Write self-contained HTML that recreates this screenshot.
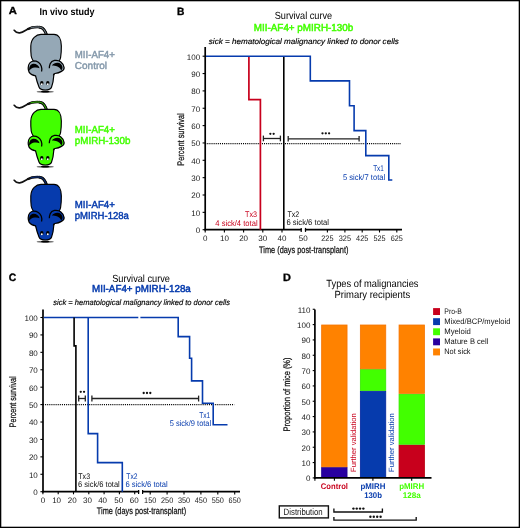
<!DOCTYPE html><html><head><meta charset="utf-8"><style>html,body{margin:0;padding:0;background:#fff;}svg{display:block;will-change:transform;}</style></head><body>
<svg width="520" height="528" viewBox="0 0 520 528" text-rendering="geometricPrecision" font-family='"Liberation Sans", sans-serif'>
<rect x="0" y="0" width="520" height="528" fill="#fff"/>
<text x="8.8" y="14.4" font-size="10.2" font-weight="bold" textLength="8.1" lengthAdjust="spacingAndGlyphs" stroke="#000" stroke-width="0.35">A</text>
<text x="39.5" y="14.5" font-size="9.9" font-weight="bold" textLength="55.1" lengthAdjust="spacingAndGlyphs">In vivo study</text>
<g transform="translate(0,0)">
<g>
 <path d="M14.2,30.3 C15.6,32.2 17.6,33.1 19.7,32.9 C22.5,32.6 24.8,30.8 27.4,29.3 C30,27.9 33.5,27 37.4,27 C40.5,27 42.8,27.6 44.2,30 C45.2,31.5 46,32.8 46.4,34.6" fill="none" stroke="#111" stroke-width="1.7" stroke-linecap="round"/>
 <path d="M27.4,29.3 C30,27.9 33.5,27 37.4,27 C40.5,27 42.8,27.6 44.2,30 C45.2,31.5 46,32.8 46.4,34.6" fill="none" stroke="#111" stroke-width="2.3"/>
 <path d="M39,27.1 C41.2,27.3 43,28 44.2,30 C45.2,31.5 46,32.8 46.4,34.6" fill="none" stroke="#111" stroke-width="2.9"/>
 <path d="M31,27.8 C33.5,27.1 35.5,27 37.4,27 C40.5,27 42.8,27.6 44.2,30 C45.1,31.4 45.8,32.8 46.2,34.8" fill="none" stroke="#95a8b6" stroke-width="0.75" stroke-linecap="round"/>
 <path d="M41,34.4 L54,34.4 C58.6,34.4 61.3,39 61.35,46 C61.4,51 61,55 60.6,57.5 C60.3,59 59.8,60 59.3,60.5 L56,68 L53.8,75.4 C53.5,80 52.8,84 51.5,87.2 C50.6,89.3 49.2,90 45.3,90 C41.4,90 40,89.3 39.1,87.2 C37.8,84 36.5,80 35.6,76 L33.2,61 C32.3,59.5 31.5,58 31.2,56 C30.8,52 30.7,49 30.8,46 C31.1,38.6 36.2,34.4 41,34.4 Z" fill="#95a8b6" stroke="#000" stroke-width="1.15"/>
 <path d="M33.5,61 C36.5,61 40,62.8 41.3,66.3 C41.9,68 41.9,70 41.6,71.5 L36,76 C34.5,75.6 33,75.2 31.8,74.6 C29.6,73.5 28.2,71 28.2,68 C28.2,64.2 30.5,61.4 33.5,61 Z" fill="#95a8b6"/>
 <path d="M41.6,71.5 C41.9,70 41.9,68 41.3,66.3 C40,62.8 36.5,61 33.5,61 C30.5,61.4 28.2,64.2 28.2,68 C28.2,71 29.6,73.5 31.8,74.6 C33,75.2 34.5,75.6 36,76" fill="none" stroke="#000" stroke-width="1.25"/>
 <path d="M29.2,70.8 C28.8,66.8 30.4,64 33.2,63.7 C36,63.4 38.6,65.1 39.6,68.2 C38.1,67.6 36.4,67.4 34.6,67.6 C32.4,67.9 30.5,69 29.2,70.8 Z" fill="#000"/>
 <path d="M49.3,68.3 L53.7,73.7 C55,73.6 56,73.5 56.8,73.3 C59,72.8 60.5,72.2 61.4,71.4 C63,70.2 64.2,69.3 64.1,67.8 C64.1,66.8 63.9,66 63.7,65.8 C62.8,63.3 61.4,62.3 60.6,61.8 C59.4,60.8 58,60.2 56.8,60.2 C55,60.2 53.8,60.4 52.9,61 C51.4,61.8 50.6,62.6 50.2,63.7 C49.6,65.2 49.3,66.6 49.3,68.3 Z" fill="#95a8b6"/>
 <path d="M49.3,68.3 C49.3,66.6 49.6,65.2 50.2,63.7 C50.9,62 52.5,60.8 54.5,60.4 C56.8,60 59,60.5 60.6,61.8 C62.4,63.2 63.8,65.2 64.1,67.6 C64.3,69.4 63,70.6 61.4,71.4 C59.8,72.4 57.4,73.2 55,73.5 C54,73.7 53.5,74.3 53.4,75.4" fill="none" stroke="#000" stroke-width="1.25"/>
 <path d="M51.8,65.6 C53.3,63.4 55.5,62.6 57.5,62.7 C60.1,62.8 62,64.5 62.4,66.8 C62.6,68.1 62.2,69.4 61.3,70.5 C60.4,68.8 59.3,67.3 57.4,66.6 C55.6,65.9 53.5,65.7 51.8,65.6 Z" fill="#000"/>
 <ellipse cx="41.8" cy="83.1" rx="1.7" ry="2.2" fill="#000"/>
 <ellipse cx="47.8" cy="83.1" rx="1.7" ry="2.2" fill="#000"/>
 <circle cx="41.8" cy="84.2" r="0.95" fill="#fff"/>
 <circle cx="47.8" cy="84.2" r="0.95" fill="#fff"/>
 <ellipse cx="45.2" cy="91.8" rx="8.6" ry="1.0" fill="#111" opacity="0.6"/>
 <ellipse cx="45.2" cy="91.6" rx="4.3" ry="0.95" fill="#000"/>
</g></g>
<g transform="translate(0,75)">
<g>
 <path d="M14.2,30.3 C15.6,32.2 17.6,33.1 19.7,32.9 C22.5,32.6 24.8,30.8 27.4,29.3 C30,27.9 33.5,27 37.4,27 C40.5,27 42.8,27.6 44.2,30 C45.2,31.5 46,32.8 46.4,34.6" fill="none" stroke="#111" stroke-width="1.7" stroke-linecap="round"/>
 <path d="M27.4,29.3 C30,27.9 33.5,27 37.4,27 C40.5,27 42.8,27.6 44.2,30 C45.2,31.5 46,32.8 46.4,34.6" fill="none" stroke="#111" stroke-width="2.3"/>
 <path d="M39,27.1 C41.2,27.3 43,28 44.2,30 C45.2,31.5 46,32.8 46.4,34.6" fill="none" stroke="#111" stroke-width="2.9"/>
 <path d="M31,27.8 C33.5,27.1 35.5,27 37.4,27 C40.5,27 42.8,27.6 44.2,30 C45.1,31.4 45.8,32.8 46.2,34.8" fill="none" stroke="#42ff00" stroke-width="0.75" stroke-linecap="round"/>
 <path d="M41,34.4 L54,34.4 C58.6,34.4 61.3,39 61.35,46 C61.4,51 61,55 60.6,57.5 C60.3,59 59.8,60 59.3,60.5 L56,68 L53.8,75.4 C53.5,80 52.8,84 51.5,87.2 C50.6,89.3 49.2,90 45.3,90 C41.4,90 40,89.3 39.1,87.2 C37.8,84 36.5,80 35.6,76 L33.2,61 C32.3,59.5 31.5,58 31.2,56 C30.8,52 30.7,49 30.8,46 C31.1,38.6 36.2,34.4 41,34.4 Z" fill="#42ff00" stroke="#000" stroke-width="1.15"/>
 <path d="M33.5,61 C36.5,61 40,62.8 41.3,66.3 C41.9,68 41.9,70 41.6,71.5 L36,76 C34.5,75.6 33,75.2 31.8,74.6 C29.6,73.5 28.2,71 28.2,68 C28.2,64.2 30.5,61.4 33.5,61 Z" fill="#42ff00"/>
 <path d="M41.6,71.5 C41.9,70 41.9,68 41.3,66.3 C40,62.8 36.5,61 33.5,61 C30.5,61.4 28.2,64.2 28.2,68 C28.2,71 29.6,73.5 31.8,74.6 C33,75.2 34.5,75.6 36,76" fill="none" stroke="#000" stroke-width="1.25"/>
 <path d="M29.2,70.8 C28.8,66.8 30.4,64 33.2,63.7 C36,63.4 38.6,65.1 39.6,68.2 C38.1,67.6 36.4,67.4 34.6,67.6 C32.4,67.9 30.5,69 29.2,70.8 Z" fill="#000"/>
 <path d="M49.3,68.3 L53.7,73.7 C55,73.6 56,73.5 56.8,73.3 C59,72.8 60.5,72.2 61.4,71.4 C63,70.2 64.2,69.3 64.1,67.8 C64.1,66.8 63.9,66 63.7,65.8 C62.8,63.3 61.4,62.3 60.6,61.8 C59.4,60.8 58,60.2 56.8,60.2 C55,60.2 53.8,60.4 52.9,61 C51.4,61.8 50.6,62.6 50.2,63.7 C49.6,65.2 49.3,66.6 49.3,68.3 Z" fill="#42ff00"/>
 <path d="M49.3,68.3 C49.3,66.6 49.6,65.2 50.2,63.7 C50.9,62 52.5,60.8 54.5,60.4 C56.8,60 59,60.5 60.6,61.8 C62.4,63.2 63.8,65.2 64.1,67.6 C64.3,69.4 63,70.6 61.4,71.4 C59.8,72.4 57.4,73.2 55,73.5 C54,73.7 53.5,74.3 53.4,75.4" fill="none" stroke="#000" stroke-width="1.25"/>
 <path d="M51.8,65.6 C53.3,63.4 55.5,62.6 57.5,62.7 C60.1,62.8 62,64.5 62.4,66.8 C62.6,68.1 62.2,69.4 61.3,70.5 C60.4,68.8 59.3,67.3 57.4,66.6 C55.6,65.9 53.5,65.7 51.8,65.6 Z" fill="#000"/>
 <ellipse cx="41.8" cy="83.1" rx="1.7" ry="2.2" fill="#000"/>
 <ellipse cx="47.8" cy="83.1" rx="1.7" ry="2.2" fill="#000"/>
 <circle cx="41.8" cy="84.2" r="0.95" fill="#fff"/>
 <circle cx="47.8" cy="84.2" r="0.95" fill="#fff"/>
 <ellipse cx="45.2" cy="91.8" rx="8.6" ry="1.0" fill="#111" opacity="0.6"/>
 <ellipse cx="45.2" cy="91.6" rx="4.3" ry="0.95" fill="#000"/>
</g></g>
<g transform="translate(0,150)">
<g>
 <path d="M14.2,30.3 C15.6,32.2 17.6,33.1 19.7,32.9 C22.5,32.6 24.8,30.8 27.4,29.3 C30,27.9 33.5,27 37.4,27 C40.5,27 42.8,27.6 44.2,30 C45.2,31.5 46,32.8 46.4,34.6" fill="none" stroke="#111" stroke-width="1.7" stroke-linecap="round"/>
 <path d="M27.4,29.3 C30,27.9 33.5,27 37.4,27 C40.5,27 42.8,27.6 44.2,30 C45.2,31.5 46,32.8 46.4,34.6" fill="none" stroke="#111" stroke-width="2.3"/>
 <path d="M39,27.1 C41.2,27.3 43,28 44.2,30 C45.2,31.5 46,32.8 46.4,34.6" fill="none" stroke="#111" stroke-width="2.9"/>
 <path d="M31,27.8 C33.5,27.1 35.5,27 37.4,27 C40.5,27 42.8,27.6 44.2,30 C45.1,31.4 45.8,32.8 46.2,34.8" fill="none" stroke="#063bad" stroke-width="0.75" stroke-linecap="round"/>
 <path d="M41,34.4 L54,34.4 C58.6,34.4 61.3,39 61.35,46 C61.4,51 61,55 60.6,57.5 C60.3,59 59.8,60 59.3,60.5 L56,68 L53.8,75.4 C53.5,80 52.8,84 51.5,87.2 C50.6,89.3 49.2,90 45.3,90 C41.4,90 40,89.3 39.1,87.2 C37.8,84 36.5,80 35.6,76 L33.2,61 C32.3,59.5 31.5,58 31.2,56 C30.8,52 30.7,49 30.8,46 C31.1,38.6 36.2,34.4 41,34.4 Z" fill="#063bad" stroke="#000" stroke-width="1.15"/>
 <path d="M33.5,61 C36.5,61 40,62.8 41.3,66.3 C41.9,68 41.9,70 41.6,71.5 L36,76 C34.5,75.6 33,75.2 31.8,74.6 C29.6,73.5 28.2,71 28.2,68 C28.2,64.2 30.5,61.4 33.5,61 Z" fill="#063bad"/>
 <path d="M41.6,71.5 C41.9,70 41.9,68 41.3,66.3 C40,62.8 36.5,61 33.5,61 C30.5,61.4 28.2,64.2 28.2,68 C28.2,71 29.6,73.5 31.8,74.6 C33,75.2 34.5,75.6 36,76" fill="none" stroke="#000" stroke-width="1.25"/>
 <path d="M29.2,70.8 C28.8,66.8 30.4,64 33.2,63.7 C36,63.4 38.6,65.1 39.6,68.2 C38.1,67.6 36.4,67.4 34.6,67.6 C32.4,67.9 30.5,69 29.2,70.8 Z" fill="#000"/>
 <path d="M49.3,68.3 L53.7,73.7 C55,73.6 56,73.5 56.8,73.3 C59,72.8 60.5,72.2 61.4,71.4 C63,70.2 64.2,69.3 64.1,67.8 C64.1,66.8 63.9,66 63.7,65.8 C62.8,63.3 61.4,62.3 60.6,61.8 C59.4,60.8 58,60.2 56.8,60.2 C55,60.2 53.8,60.4 52.9,61 C51.4,61.8 50.6,62.6 50.2,63.7 C49.6,65.2 49.3,66.6 49.3,68.3 Z" fill="#063bad"/>
 <path d="M49.3,68.3 C49.3,66.6 49.6,65.2 50.2,63.7 C50.9,62 52.5,60.8 54.5,60.4 C56.8,60 59,60.5 60.6,61.8 C62.4,63.2 63.8,65.2 64.1,67.6 C64.3,69.4 63,70.6 61.4,71.4 C59.8,72.4 57.4,73.2 55,73.5 C54,73.7 53.5,74.3 53.4,75.4" fill="none" stroke="#000" stroke-width="1.25"/>
 <path d="M51.8,65.6 C53.3,63.4 55.5,62.6 57.5,62.7 C60.1,62.8 62,64.5 62.4,66.8 C62.6,68.1 62.2,69.4 61.3,70.5 C60.4,68.8 59.3,67.3 57.4,66.6 C55.6,65.9 53.5,65.7 51.8,65.6 Z" fill="#000"/>
 <ellipse cx="41.8" cy="83.1" rx="1.7" ry="2.2" fill="#000"/>
 <ellipse cx="47.8" cy="83.1" rx="1.7" ry="2.2" fill="#000"/>
 <circle cx="41.8" cy="84.2" r="0.95" fill="#fff"/>
 <circle cx="47.8" cy="84.2" r="0.95" fill="#fff"/>
 <ellipse cx="45.2" cy="91.8" rx="8.6" ry="1.0" fill="#111" opacity="0.6"/>
 <ellipse cx="45.2" cy="91.6" rx="4.3" ry="0.95" fill="#000"/>
</g></g>
<text x="74.8" y="57.5" font-size="10.1" fill="#8599ab" textLength="40.1" lengthAdjust="spacingAndGlyphs" stroke="#8599ab" stroke-width="0.45">MII-AF4+</text>
<text x="74.8" y="68.6" font-size="10.1" fill="#8599ab" textLength="32.3" lengthAdjust="spacingAndGlyphs" stroke="#8599ab" stroke-width="0.45">Control</text>
<text x="74.8" y="132.5" font-size="10.1" fill="#42ff00" textLength="40.1" lengthAdjust="spacingAndGlyphs" stroke="#42ff00" stroke-width="0.45">MII-AF4+</text>
<text x="74.8" y="143.6" font-size="10.1" fill="#42ff00" textLength="55.6" lengthAdjust="spacingAndGlyphs" stroke="#42ff00" stroke-width="0.45">pMIRH-130b</text>
<text x="74.8" y="207.5" font-size="10.1" fill="#063bad" textLength="40.1" lengthAdjust="spacingAndGlyphs" stroke="#063bad" stroke-width="0.45">MII-AF4+</text>
<text x="74.8" y="218.6" font-size="10.1" fill="#063bad" textLength="54.1" lengthAdjust="spacingAndGlyphs" stroke="#063bad" stroke-width="0.45">pMIRH-128a</text>
<text x="177" y="15" font-size="10.5" font-weight="bold" textLength="7.4" lengthAdjust="spacingAndGlyphs" stroke="#000" stroke-width="0.35">B</text>
<text x="274.7" y="18.5" font-size="10.4" textLength="57.5" lengthAdjust="spacingAndGlyphs">Survival curve</text>
<text x="253.8" y="30.7" font-size="10.1" fill="#42ff00" textLength="99.5" lengthAdjust="spacingAndGlyphs" stroke="#42ff00" stroke-width="0.5">MII-AF4+ pMIRH-130b</text>
<text x="208.8" y="43.5" font-size="7.8" font-style="italic" textLength="190" lengthAdjust="spacingAndGlyphs" stroke="#000" stroke-width="0.15">sick = hematological malignancy linked to donor cells</text>
<line x1="205.2" y1="47" x2="205.2" y2="230.45" stroke="#000" stroke-width="1.7"/>
<line x1="202.6" y1="229.7" x2="205.2" y2="229.7" stroke="#000" stroke-width="1.1"/>
<text x="200.2" y="233.15" font-size="8" text-anchor="end" fill="#1a1a1a">0</text>
<line x1="202.6" y1="212.35" x2="205.2" y2="212.35" stroke="#000" stroke-width="1.1"/>
<text x="200.2" y="215.8" font-size="8" text-anchor="end" fill="#1a1a1a">10</text>
<line x1="202.6" y1="195" x2="205.2" y2="195" stroke="#000" stroke-width="1.1"/>
<text x="200.2" y="198.45" font-size="8" text-anchor="end" fill="#1a1a1a">20</text>
<line x1="202.6" y1="177.65" x2="205.2" y2="177.65" stroke="#000" stroke-width="1.1"/>
<text x="200.2" y="181.1" font-size="8" text-anchor="end" fill="#1a1a1a">30</text>
<line x1="202.6" y1="160.3" x2="205.2" y2="160.3" stroke="#000" stroke-width="1.1"/>
<text x="200.2" y="163.75" font-size="8" text-anchor="end" fill="#1a1a1a">40</text>
<line x1="202.6" y1="142.95" x2="205.2" y2="142.95" stroke="#000" stroke-width="1.1"/>
<text x="200.2" y="146.4" font-size="8" text-anchor="end" fill="#1a1a1a">50</text>
<line x1="202.6" y1="125.6" x2="205.2" y2="125.6" stroke="#000" stroke-width="1.1"/>
<text x="200.2" y="129.05" font-size="8" text-anchor="end" fill="#1a1a1a">60</text>
<line x1="202.6" y1="108.25" x2="205.2" y2="108.25" stroke="#000" stroke-width="1.1"/>
<text x="200.2" y="111.7" font-size="8" text-anchor="end" fill="#1a1a1a">70</text>
<line x1="202.6" y1="90.9" x2="205.2" y2="90.9" stroke="#000" stroke-width="1.1"/>
<text x="200.2" y="94.35" font-size="8" text-anchor="end" fill="#1a1a1a">80</text>
<line x1="202.6" y1="73.55" x2="205.2" y2="73.55" stroke="#000" stroke-width="1.1"/>
<text x="200.2" y="77" font-size="8" text-anchor="end" fill="#1a1a1a">90</text>
<line x1="202.6" y1="56.2" x2="205.2" y2="56.2" stroke="#000" stroke-width="1.1"/>
<text x="200.2" y="59.65" font-size="8" text-anchor="end" fill="#1a1a1a">100</text>
<line x1="204.45" y1="229.7" x2="301.8" y2="229.7" stroke="#000" stroke-width="1.7"/>
<line x1="304.9" y1="229.7" x2="402" y2="229.7" stroke="#000" stroke-width="1.7"/>
<line x1="301.2" y1="227.9" x2="301.2" y2="231.9" stroke="#000" stroke-width="1.2"/>
<line x1="305.5" y1="227.9" x2="305.5" y2="231.9" stroke="#000" stroke-width="1.2"/>
<line x1="205.2" y1="229.7" x2="205.2" y2="232.5" stroke="#000" stroke-width="1.1"/>
<text x="205.2" y="240.8" font-size="8" text-anchor="middle" fill="#1a1a1a">0</text>
<line x1="224.4" y1="229.7" x2="224.4" y2="232.5" stroke="#000" stroke-width="1.1"/>
<text x="224.4" y="240.8" font-size="8" text-anchor="middle" fill="#1a1a1a">10</text>
<line x1="243.6" y1="229.7" x2="243.6" y2="232.5" stroke="#000" stroke-width="1.1"/>
<text x="243.6" y="240.8" font-size="8" text-anchor="middle" fill="#1a1a1a">20</text>
<line x1="262.8" y1="229.7" x2="262.8" y2="232.5" stroke="#000" stroke-width="1.1"/>
<text x="262.8" y="240.8" font-size="8" text-anchor="middle" fill="#1a1a1a">30</text>
<line x1="282" y1="229.7" x2="282" y2="232.5" stroke="#000" stroke-width="1.1"/>
<text x="282" y="240.8" font-size="8" text-anchor="middle" fill="#1a1a1a">40</text>
<text x="303.2" y="240.8" font-size="8" text-anchor="middle" fill="#1a1a1a">50</text>
<line x1="327.4" y1="229.7" x2="327.4" y2="232.5" stroke="#000" stroke-width="1.1"/>
<text x="327.4" y="240.8" font-size="8" text-anchor="middle" fill="#1a1a1a" textLength="12.2" lengthAdjust="spacingAndGlyphs">225</text>
<line x1="344.9" y1="229.7" x2="344.9" y2="232.5" stroke="#000" stroke-width="1.1"/>
<text x="344.9" y="240.8" font-size="8" text-anchor="middle" fill="#1a1a1a" textLength="12.2" lengthAdjust="spacingAndGlyphs">325</text>
<line x1="362.2" y1="229.7" x2="362.2" y2="232.5" stroke="#000" stroke-width="1.1"/>
<text x="362.2" y="240.8" font-size="8" text-anchor="middle" fill="#1a1a1a" textLength="12.2" lengthAdjust="spacingAndGlyphs">425</text>
<line x1="379.5" y1="229.7" x2="379.5" y2="232.5" stroke="#000" stroke-width="1.1"/>
<text x="379.5" y="240.8" font-size="8" text-anchor="middle" fill="#1a1a1a" textLength="12.2" lengthAdjust="spacingAndGlyphs">525</text>
<line x1="396.8" y1="229.7" x2="396.8" y2="232.5" stroke="#000" stroke-width="1.1"/>
<text x="396.8" y="240.8" font-size="8" text-anchor="middle" fill="#1a1a1a" textLength="12.2" lengthAdjust="spacingAndGlyphs">625</text>
<text x="259.1" y="253.4" font-size="9.6" fill="#111" textLength="89.3" lengthAdjust="spacingAndGlyphs" stroke="#111" stroke-width="0.25">Time (days post-transplant)</text>
<text transform="translate(183.5,139.55) rotate(-90)" x="0" y="0" font-size="9.6" text-anchor="middle" fill="#111" stroke="#111" stroke-width="0.25" textLength="52.3" lengthAdjust="spacingAndGlyphs">Percent survival</text>
<line x1="205.2" y1="143.5" x2="401" y2="143.5" stroke="#000" stroke-width="1.25" stroke-dasharray="1.05 1.05"/>
<polyline points="248.9,56.2 248.9,99.6 260.4,99.6 260.4,229.7" fill="none" stroke="#c8001c" stroke-width="1.7" stroke-linejoin="miter" stroke-linecap="butt"/>
<line x1="283.8" y1="56.2" x2="283.8" y2="229.7" stroke="#000" stroke-width="1.6"/>
<polyline points="206,56.2 310.3,56.2 310.3,80.9 349.5,80.9 349.5,105.7 354.1,105.7 354.1,130.6 365.8,130.6 365.8,155.6 388.8,155.6 388.8,180 392.3,180" fill="none" stroke="#063bad" stroke-width="1.6" stroke-linejoin="miter" stroke-linecap="butt"/>
<line x1="263.4" y1="138.5" x2="280.4" y2="138.5" stroke="#222" stroke-width="1.3"/>
<line x1="263.4" y1="135.6" x2="263.4" y2="141.3" stroke="#222" stroke-width="1.3"/>
<line x1="280.4" y1="135.6" x2="280.4" y2="141.3" stroke="#222" stroke-width="1.3"/>
<circle cx="270.35" cy="133.8" r="1.15" fill="#111"/>
<circle cx="273.65" cy="133.8" r="1.15" fill="#111"/>
<line x1="288.2" y1="138.95" x2="359.1" y2="138.95" stroke="#222" stroke-width="1.3"/>
<line x1="288.2" y1="136.05" x2="288.2" y2="141.55" stroke="#222" stroke-width="1.3"/>
<line x1="359.1" y1="136.05" x2="359.1" y2="141.55" stroke="#222" stroke-width="1.3"/>
<circle cx="322.5" cy="133.3" r="1.15" fill="#111"/>
<circle cx="325.8" cy="133.3" r="1.15" fill="#111"/>
<circle cx="329.1" cy="133.3" r="1.15" fill="#111"/>
<text x="245.1" y="217" font-size="8.2" fill="#c8001c" textLength="12" lengthAdjust="spacingAndGlyphs">Tx3</text>
<text x="215.3" y="225.5" font-size="8.2" fill="#c8001c" textLength="42.3" lengthAdjust="spacingAndGlyphs">4 sick/4 total</text>
<text x="287.4" y="216.8" font-size="8.2" fill="#111" textLength="11.8" lengthAdjust="spacingAndGlyphs">Tx2</text>
<text x="286.4" y="225.3" font-size="8.2" fill="#111" textLength="42.6" lengthAdjust="spacingAndGlyphs">6 sick/6 total</text>
<text x="373.2" y="171.1" font-size="8.2" fill="#063bad" textLength="10.6" lengthAdjust="spacingAndGlyphs">Tx1</text>
<text x="342.9" y="179.7" font-size="8.2" fill="#063bad" textLength="42.3" lengthAdjust="spacingAndGlyphs">5 sick/7 total</text>
<text x="8.8" y="281" font-size="10.7" font-weight="bold" textLength="7.5" lengthAdjust="spacingAndGlyphs" stroke="#000" stroke-width="0.35">C</text>
<text x="112.2" y="281.5" font-size="10.4" textLength="57.8" lengthAdjust="spacingAndGlyphs">Survival curve</text>
<text x="92" y="291.9" font-size="10.1" fill="#063bad" textLength="98.8" lengthAdjust="spacingAndGlyphs" stroke="#063bad" stroke-width="0.5">MII-AF4+ pMIRH-128a</text>
<text x="53.3" y="304.6" font-size="7.8" font-style="italic" textLength="176.7" lengthAdjust="spacingAndGlyphs" stroke="#000" stroke-width="0.15">sick = hematological malignancy linked to donor cells</text>
<line x1="43" y1="309.5" x2="43" y2="492.45" stroke="#000" stroke-width="1.7"/>
<line x1="40.4" y1="491.7" x2="43" y2="491.7" stroke="#000" stroke-width="1.1"/>
<text x="37.8" y="495.15" font-size="8" text-anchor="end" fill="#1a1a1a">0</text>
<line x1="40.4" y1="474.28" x2="43" y2="474.28" stroke="#000" stroke-width="1.1"/>
<text x="37.8" y="477.73" font-size="8" text-anchor="end" fill="#1a1a1a">10</text>
<line x1="40.4" y1="456.86" x2="43" y2="456.86" stroke="#000" stroke-width="1.1"/>
<text x="37.8" y="460.31" font-size="8" text-anchor="end" fill="#1a1a1a">20</text>
<line x1="40.4" y1="439.44" x2="43" y2="439.44" stroke="#000" stroke-width="1.1"/>
<text x="37.8" y="442.89" font-size="8" text-anchor="end" fill="#1a1a1a">30</text>
<line x1="40.4" y1="422.02" x2="43" y2="422.02" stroke="#000" stroke-width="1.1"/>
<text x="37.8" y="425.47" font-size="8" text-anchor="end" fill="#1a1a1a">40</text>
<line x1="40.4" y1="404.6" x2="43" y2="404.6" stroke="#000" stroke-width="1.1"/>
<text x="37.8" y="408.05" font-size="8" text-anchor="end" fill="#1a1a1a">50</text>
<line x1="40.4" y1="387.18" x2="43" y2="387.18" stroke="#000" stroke-width="1.1"/>
<text x="37.8" y="390.63" font-size="8" text-anchor="end" fill="#1a1a1a">60</text>
<line x1="40.4" y1="369.76" x2="43" y2="369.76" stroke="#000" stroke-width="1.1"/>
<text x="37.8" y="373.21" font-size="8" text-anchor="end" fill="#1a1a1a">70</text>
<line x1="40.4" y1="352.34" x2="43" y2="352.34" stroke="#000" stroke-width="1.1"/>
<text x="37.8" y="355.79" font-size="8" text-anchor="end" fill="#1a1a1a">80</text>
<line x1="40.4" y1="334.92" x2="43" y2="334.92" stroke="#000" stroke-width="1.1"/>
<text x="37.8" y="338.37" font-size="8" text-anchor="end" fill="#1a1a1a">90</text>
<line x1="40.4" y1="317.5" x2="43" y2="317.5" stroke="#000" stroke-width="1.1"/>
<text x="37.8" y="320.95" font-size="8" text-anchor="end" fill="#1a1a1a">100</text>
<line x1="42.25" y1="491.7" x2="139.2" y2="491.7" stroke="#000" stroke-width="1.7"/>
<line x1="142" y1="491.7" x2="240" y2="491.7" stroke="#000" stroke-width="1.7"/>
<line x1="138.6" y1="489.9" x2="138.6" y2="493.9" stroke="#000" stroke-width="1.2"/>
<line x1="142.6" y1="489.9" x2="142.6" y2="493.9" stroke="#000" stroke-width="1.2"/>
<line x1="42.9" y1="491.7" x2="42.9" y2="494.3" stroke="#000" stroke-width="1.1"/>
<text x="42.9" y="503.1" font-size="8" text-anchor="middle" fill="#1a1a1a">0</text>
<line x1="58.2" y1="491.7" x2="58.2" y2="494.3" stroke="#000" stroke-width="1.1"/>
<text x="56.6" y="503.1" font-size="8" text-anchor="middle" fill="#1a1a1a">10</text>
<line x1="73.5" y1="491.7" x2="73.5" y2="494.3" stroke="#000" stroke-width="1.1"/>
<text x="72.3" y="503.1" font-size="8" text-anchor="middle" fill="#1a1a1a">20</text>
<line x1="88.8" y1="491.7" x2="88.8" y2="494.3" stroke="#000" stroke-width="1.1"/>
<text x="87.4" y="503.1" font-size="8" text-anchor="middle" fill="#1a1a1a">30</text>
<line x1="104.1" y1="491.7" x2="104.1" y2="494.3" stroke="#000" stroke-width="1.1"/>
<text x="102.6" y="503.1" font-size="8" text-anchor="middle" fill="#1a1a1a">40</text>
<line x1="119.4" y1="491.7" x2="119.4" y2="494.3" stroke="#000" stroke-width="1.1"/>
<text x="118.8" y="503.1" font-size="8" text-anchor="middle" fill="#1a1a1a">50</text>
<line x1="134.7" y1="491.7" x2="134.7" y2="494.3" stroke="#000" stroke-width="1.1"/>
<text x="134.2" y="503.1" font-size="8" text-anchor="middle" fill="#1a1a1a">60</text>
<line x1="150.2" y1="491.7" x2="150.2" y2="494.5" stroke="#000" stroke-width="1.1"/>
<text x="150.2" y="503.1" font-size="8" text-anchor="middle" fill="#1a1a1a" textLength="12.2" lengthAdjust="spacingAndGlyphs">150</text>
<line x1="167.1" y1="491.7" x2="167.1" y2="494.5" stroke="#000" stroke-width="1.1"/>
<text x="167.1" y="503.1" font-size="8" text-anchor="middle" fill="#1a1a1a" textLength="12.2" lengthAdjust="spacingAndGlyphs">250</text>
<line x1="184" y1="491.7" x2="184" y2="494.5" stroke="#000" stroke-width="1.1"/>
<text x="184" y="503.1" font-size="8" text-anchor="middle" fill="#1a1a1a" textLength="12.2" lengthAdjust="spacingAndGlyphs">350</text>
<line x1="200.9" y1="491.7" x2="200.9" y2="494.5" stroke="#000" stroke-width="1.1"/>
<text x="200.9" y="503.1" font-size="8" text-anchor="middle" fill="#1a1a1a" textLength="12.2" lengthAdjust="spacingAndGlyphs">450</text>
<line x1="217.8" y1="491.7" x2="217.8" y2="494.5" stroke="#000" stroke-width="1.1"/>
<text x="217.8" y="503.1" font-size="8" text-anchor="middle" fill="#1a1a1a" textLength="12.2" lengthAdjust="spacingAndGlyphs">550</text>
<line x1="234.7" y1="491.7" x2="234.7" y2="494.5" stroke="#000" stroke-width="1.1"/>
<text x="234.7" y="503.1" font-size="8" text-anchor="middle" fill="#1a1a1a" textLength="12.2" lengthAdjust="spacingAndGlyphs">650</text>
<text x="96.8" y="513.9" font-size="9.6" fill="#111" textLength="89.3" lengthAdjust="spacingAndGlyphs" stroke="#111" stroke-width="0.25">Time (days post-transplant)</text>
<text transform="translate(16.1,401.85) rotate(-90)" x="0" y="0" font-size="9.5" text-anchor="middle" fill="#111" stroke="#111" stroke-width="0.25" textLength="51.1" lengthAdjust="spacingAndGlyphs">Percent survival</text>
<line x1="43" y1="404.6" x2="234.3" y2="404.6" stroke="#000" stroke-width="1.25" stroke-dasharray="1.05 1.05"/>
<polyline points="43.8,317.5 138.3,317.5" fill="none" stroke="#063bad" stroke-width="1.6" stroke-linejoin="miter" stroke-linecap="butt"/>
<polyline points="140.4,317.5 178.2,317.5 178.2,336.6 189.6,336.6 189.6,358.2 191.6,358.2 191.6,380.9 202.5,380.9 202.5,403.2 213.2,403.2 213.2,424.8 227.5,424.8" fill="none" stroke="#063bad" stroke-width="1.6" stroke-linejoin="miter" stroke-linecap="butt"/>
<polyline points="74.1,317.5 74.1,345.9 75.9,345.9 75.9,491.7" fill="none" stroke="#000" stroke-width="1.6" stroke-linejoin="miter" stroke-linecap="butt"/>
<polyline points="88.2,317.5 88.2,433.6 97.6,433.6 97.6,462.6 122.3,462.6 122.3,491.7" fill="none" stroke="#063bad" stroke-width="1.6" stroke-linejoin="miter" stroke-linecap="butt"/>
<line x1="78.7" y1="398.5" x2="85.3" y2="398.5" stroke="#222" stroke-width="1.3"/>
<line x1="78.7" y1="395.6" x2="78.7" y2="401.5" stroke="#222" stroke-width="1.3"/>
<line x1="85.3" y1="395.6" x2="85.3" y2="401.5" stroke="#222" stroke-width="1.3"/>
<circle cx="80.75" cy="391.8" r="1.15" fill="#111"/>
<circle cx="84.05" cy="391.8" r="1.15" fill="#111"/>
<line x1="91.9" y1="398.5" x2="198.6" y2="398.5" stroke="#222" stroke-width="1.3"/>
<line x1="91.9" y1="395.6" x2="91.9" y2="401.5" stroke="#222" stroke-width="1.3"/>
<line x1="198.6" y1="395.6" x2="198.6" y2="401.5" stroke="#222" stroke-width="1.3"/>
<circle cx="143.7" cy="393" r="1.15" fill="#111"/>
<circle cx="147" cy="393" r="1.15" fill="#111"/>
<circle cx="150.3" cy="393" r="1.15" fill="#111"/>
<text x="78.3" y="478.9" font-size="8.2" fill="#111" textLength="11.8" lengthAdjust="spacingAndGlyphs">Tx3</text>
<text x="78" y="487.3" font-size="8.2" fill="#111" textLength="41.8" lengthAdjust="spacingAndGlyphs">6 sick/6 total</text>
<text x="126.3" y="478.9" font-size="8.2" fill="#063bad" textLength="11.2" lengthAdjust="spacingAndGlyphs">Tx2</text>
<text x="125.5" y="487.3" font-size="8.2" fill="#063bad" textLength="42.3" lengthAdjust="spacingAndGlyphs">6 sick/6 total</text>
<text x="199.2" y="417.5" font-size="8.2" fill="#063bad" textLength="11" lengthAdjust="spacingAndGlyphs">Tx1</text>
<text x="169.7" y="426.2" font-size="8.2" fill="#063bad" textLength="41.5" lengthAdjust="spacingAndGlyphs">5 sick/9 total</text>
<text x="283" y="281.45" font-size="10.7" font-weight="bold" textLength="7.9" lengthAdjust="spacingAndGlyphs" stroke="#000" stroke-width="0.35">D</text>
<text x="326.3" y="287.3" font-size="10.4" textLength="92.2" lengthAdjust="spacingAndGlyphs">Types of malignancies</text>
<text x="334.5" y="298.4" font-size="10.4" textLength="75.7" lengthAdjust="spacingAndGlyphs">Primary recipients</text>
<rect x="321.65" y="467.57" width="25.4" height="9.93" fill="#2800a0" stroke="#1e0090" stroke-width="0.8"/>
<rect x="321.65" y="325" width="25.4" height="141.77" fill="#ff8200" stroke="#f57400" stroke-width="0.8"/>
<rect x="360.35" y="391.3" width="25.4" height="86.2" fill="#063bad" stroke="#0026a0" stroke-width="0.8"/>
<rect x="360.35" y="369.61" width="25.4" height="20.89" fill="#42ff00" stroke="#36e600" stroke-width="0.8"/>
<rect x="360.35" y="325" width="25.4" height="43.81" fill="#ff8200" stroke="#f57400" stroke-width="0.8"/>
<rect x="399.05" y="445.03" width="25.4" height="32.47" fill="#c8001c" stroke="#b8000e" stroke-width="0.8"/>
<rect x="399.05" y="394.14" width="25.4" height="50.1" fill="#42ff00" stroke="#36e600" stroke-width="0.8"/>
<rect x="399.05" y="325" width="25.4" height="68.34" fill="#ff8200" stroke="#f57400" stroke-width="0.8"/>
<line x1="314.9" y1="309.5" x2="314.9" y2="478.65" stroke="#000" stroke-width="1.7"/>
<line x1="312.7" y1="477.9" x2="314.9" y2="477.9" stroke="#000" stroke-width="1.1"/>
<text x="310.4" y="481.35" font-size="8" text-anchor="end" fill="#1a1a1a">0</text>
<line x1="312.7" y1="462.57" x2="314.9" y2="462.57" stroke="#000" stroke-width="1.1"/>
<text x="310.4" y="466.02" font-size="8" text-anchor="end" fill="#1a1a1a">10</text>
<line x1="312.7" y1="447.24" x2="314.9" y2="447.24" stroke="#000" stroke-width="1.1"/>
<text x="310.4" y="450.69" font-size="8" text-anchor="end" fill="#1a1a1a">20</text>
<line x1="312.7" y1="431.91" x2="314.9" y2="431.91" stroke="#000" stroke-width="1.1"/>
<text x="310.4" y="435.36" font-size="8" text-anchor="end" fill="#1a1a1a">30</text>
<line x1="312.7" y1="416.58" x2="314.9" y2="416.58" stroke="#000" stroke-width="1.1"/>
<text x="310.4" y="420.03" font-size="8" text-anchor="end" fill="#1a1a1a">40</text>
<line x1="312.7" y1="401.25" x2="314.9" y2="401.25" stroke="#000" stroke-width="1.1"/>
<text x="310.4" y="404.7" font-size="8" text-anchor="end" fill="#1a1a1a">50</text>
<line x1="312.7" y1="385.92" x2="314.9" y2="385.92" stroke="#000" stroke-width="1.1"/>
<text x="310.4" y="389.37" font-size="8" text-anchor="end" fill="#1a1a1a">60</text>
<line x1="312.7" y1="370.59" x2="314.9" y2="370.59" stroke="#000" stroke-width="1.1"/>
<text x="310.4" y="374.04" font-size="8" text-anchor="end" fill="#1a1a1a">70</text>
<line x1="312.7" y1="355.26" x2="314.9" y2="355.26" stroke="#000" stroke-width="1.1"/>
<text x="310.4" y="358.71" font-size="8" text-anchor="end" fill="#1a1a1a">80</text>
<line x1="312.7" y1="339.93" x2="314.9" y2="339.93" stroke="#000" stroke-width="1.1"/>
<text x="310.4" y="343.38" font-size="8" text-anchor="end" fill="#1a1a1a">90</text>
<line x1="312.7" y1="324.6" x2="314.9" y2="324.6" stroke="#000" stroke-width="1.1"/>
<text x="310.4" y="328.05" font-size="8" text-anchor="end" fill="#1a1a1a">100</text>
<line x1="312.7" y1="309.27" x2="314.9" y2="309.27" stroke="#000" stroke-width="1.1"/>
<text x="310.4" y="312.72" font-size="8" text-anchor="end" fill="#1a1a1a">110</text>
<line x1="314.15" y1="477.9" x2="431.5" y2="477.9" stroke="#000" stroke-width="1.7"/>
<line x1="314.9" y1="477.9" x2="314.9" y2="480.7" stroke="#000" stroke-width="1.1"/>
<line x1="334.4" y1="477.9" x2="334.4" y2="480.7" stroke="#000" stroke-width="1.1"/>
<line x1="372.9" y1="477.9" x2="372.9" y2="480.7" stroke="#000" stroke-width="1.1"/>
<line x1="411.7" y1="477.9" x2="411.7" y2="480.7" stroke="#000" stroke-width="1.1"/>
<text transform="translate(290.2,394.5) rotate(-90)" x="0" y="0" font-size="9.5" text-anchor="middle" fill="#111" stroke="#111" stroke-width="0.25" textLength="73.9" lengthAdjust="spacingAndGlyphs">Proportion of mice (%)</text>
<text transform="translate(355.6,442.6) rotate(-90)" x="0" y="0" font-size="7.6" text-anchor="middle" fill="#c8001c" textLength="58.7" lengthAdjust="spacingAndGlyphs">Further validation</text>
<text transform="translate(394.2,442.6) rotate(-90)" x="0" y="0" font-size="7.6" text-anchor="middle" fill="#063bad" textLength="58.7" lengthAdjust="spacingAndGlyphs">Further validation</text>
<text x="320.8" y="488.5" font-size="8.2" font-weight="bold" fill="#c8001c" textLength="27.2" lengthAdjust="spacingAndGlyphs">Control</text>
<text x="360.5" y="488.5" font-size="8.2" font-weight="bold" fill="#063bad" textLength="24.9" lengthAdjust="spacingAndGlyphs">pMIRH</text>
<text x="364.2" y="497.8" font-size="8.2" font-weight="bold" fill="#063bad" textLength="17.8" lengthAdjust="spacingAndGlyphs">130b</text>
<text x="399.2" y="488.5" font-size="8.2" font-weight="bold" fill="#42ff00" textLength="25" lengthAdjust="spacingAndGlyphs">pMIRH</text>
<text x="402.7" y="497.8" font-size="8.2" font-weight="bold" fill="#42ff00" textLength="18" lengthAdjust="spacingAndGlyphs">128a</text>
<rect x="433.1" y="308.1" width="6.9" height="6.9" fill="#c8001c"/>
<text x="444.3" y="313.9" font-size="8" fill="#111" textLength="17.6" lengthAdjust="spacingAndGlyphs">Pro-B</text>
<rect x="433.1" y="318.2" width="6.9" height="6.9" fill="#063bad"/>
<text x="444.3" y="324" font-size="8" fill="#111" textLength="66.2" lengthAdjust="spacingAndGlyphs">Mixed/BCP/myeloid</text>
<rect x="433.1" y="328.3" width="6.9" height="6.9" fill="#42ff00"/>
<text x="444.3" y="334.1" font-size="8" fill="#111" textLength="26.6" lengthAdjust="spacingAndGlyphs">Myeloid</text>
<rect x="433.1" y="338.4" width="6.9" height="6.9" fill="#2800a0"/>
<text x="444.3" y="344.2" font-size="8" fill="#111" textLength="44.1" lengthAdjust="spacingAndGlyphs">Mature B cell</text>
<rect x="433.1" y="348.5" width="6.9" height="6.9" fill="#ff8200"/>
<text x="444.3" y="354.3" font-size="8" fill="#111" textLength="26.2" lengthAdjust="spacingAndGlyphs">Not sick</text>
<rect x="279.3" y="505.9" width="49.1" height="12" fill="none" stroke="#111" stroke-width="1.4"/>
<text x="283.6" y="515" font-size="9.2" fill="#111" textLength="39.1" lengthAdjust="spacingAndGlyphs">Distribution</text>
<polyline points="333.9,508.6 333.9,512 382.4,512 382.4,508.6" fill="none" stroke="#111" stroke-width="1.35"/>
<polyline points="333.9,516.9 333.9,520.1 416.2,520.1 416.2,516.9" fill="none" stroke="#111" stroke-width="1.35"/>
<circle cx="353.45" cy="508.6" r="1.2" fill="#111"/>
<circle cx="356.75" cy="508.6" r="1.2" fill="#111"/>
<circle cx="360.05" cy="508.6" r="1.2" fill="#111"/>
<circle cx="363.35" cy="508.6" r="1.2" fill="#111"/>
<circle cx="370.4" cy="516.8" r="1.2" fill="#111"/>
<circle cx="373.8" cy="516.8" r="1.2" fill="#111"/>
<circle cx="377.2" cy="516.8" r="1.2" fill="#111"/>
<circle cx="380.6" cy="516.8" r="1.2" fill="#111"/>
<rect x="0.65" y="0.65" width="518.7" height="526.7" fill="none" stroke="#000" stroke-width="1.3"/>
</svg></body></html>
